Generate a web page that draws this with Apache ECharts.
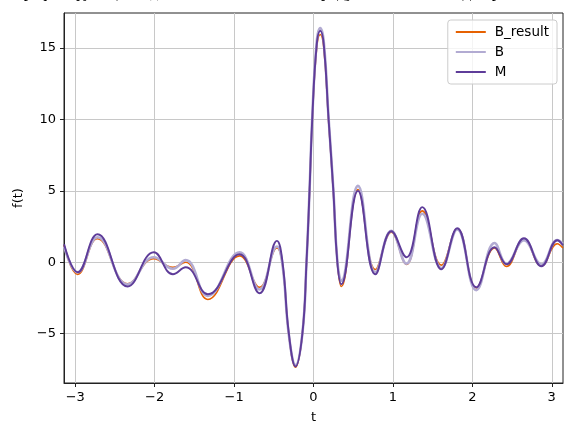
<!DOCTYPE html>
<html>
<head>
<meta charset="utf-8">
<script src="https://cdn.jsdelivr.net/npm/echarts@6/dist/echarts.min.js"></script>
<style>html,body{margin:0;padding:0;background:#fff}#c{width:565px;height:422px}</style>
</head>
<body>
<div id="c"></div>
<script>
const titleText = 'График функции f(t), восстановленной по ряду Котельникова для разных шагов дискретизации';
const seriesNames = ['B_result', 'B', 'M'];
const xTicks = [-3, -2, -1, 0, 1, 2, 3];
const yTicks = [-5, 0, 5, 10, 15];
const t = [-3.14, -2.97, -2.72, -2.34, -2.01, -1.77, -1.61, -1.33, -0.93, -0.68, -0.46, -0.39, -0.31, -0.226, -0.14, -0.088, -0.05, -0.016, 0.04, 0.085, 0.13, 0.19, 0.25, 0.30, 0.35, 0.56, 0.78, 0.98, 1.17, 1.37, 1.61, 1.81, 2.05, 2.28, 2.43, 2.65, 2.87, 3.07, 3.14];
const M = [1.26, -0.70, 1.96, -1.70, 0.70, -0.84, -0.35, -2.24, 0.56, -2.17, 1.50, 0.0, -5.0, -7.3, -5.0, 0.0, 5.0, 10.0, 15.2, 16.2, 15.2, 10.0, 5.0, 0.0, -1.54, 5.0, -0.84, 2.17, 0.35, 3.86, -0.49, 2.38, -1.75, 1.05, -0.14, 1.68, -0.28, 1.54, 1.19];
const B = [1.10, -0.70, 1.75, -1.55, 0.35, -0.45, 0.15, -2.35, 0.70, -1.90, 1.10, -0.2, -5.1, -7.2, -5.0, 0.0, 5.0, 10.1, 15.4, 16.4, 15.4, 10.1, 5.1, 0.1, -1.30, 5.35, -0.70, 2.20, -0.10, 3.40, -0.40, 2.30, -1.95, 1.35, -0.10, 1.55, -0.15, 1.55, 1.30];
const B_result = [1.20, -0.85, 1.65, -1.50, 0.25, -0.35, 0.0, -2.60, 0.45, -1.75, 1.00, -0.2, -5.1, -7.35, -5.0, 0.0, 4.9, 9.9, 15.0, 15.95, 15.0, 9.9, 4.9, 0.0, -1.70, 5.10, -0.50, 2.10, -0.15, 3.60, -0.20, 2.35, -1.80, 1.00, -0.30, 1.60, -0.25, 1.30, 1.00];

const seriesData = [B_result, B, M];
const colors = ['#e66101', '#b2abd2', '#5e3c99'];
const widths = [1.6, 2.6, 1.9];

const chart = echarts.init(document.getElementById('c'), null, {renderer: 'canvas'});
const font = 'DejaVu Sans';
chart.setOption({
  animation: false,
  backgroundColor: '#fff',
  title: {
    text: titleText,
    left: 10,
    top: -21,
    textStyle: {fontFamily: 'Liberation Serif', fontSize: 17, fontWeight: 'normal', color: '#000'}
  },
  grid: {left: 64, right: 2, top: 13, bottom: 39, show: true, borderColor: '#222', borderWidth: 1, containLabel: false, outerBoundsMode: 'none'},
  legend: {
    data: seriesNames,
    orient: 'vertical',
    right: 8,
    top: 20,
    padding: [5, 8, 5, 8],
    itemGap: 6,
    itemWidth: 30,
    itemHeight: 2,
    icon: 'rect',
    backgroundColor: 'rgba(255,255,255,0.8)',
    borderColor: '#cccccc',
    borderWidth: 1,
    borderRadius: 3,
    textStyle: {fontFamily: font, fontSize: 13.5, color: '#000', padding: [0, 0, 0, 4]}
  },
  xAxis: {
    type: 'value',
    min: -Math.PI,
    max: Math.PI,
    name: 't',
    nameLocation: 'middle',
    nameGap: 28,
    nameTextStyle: {fontFamily: font, fontSize: 13, color: '#000'},
    axisLine: {show: true, onZero: false, lineStyle: {color: '#222'}},
    axisTick: {show: true, length: 4, inside: false, customValues: xTicks, lineStyle: {color: '#222'}},
    axisLabel: {customValues: xTicks, fontFamily: font, fontSize: 13, color: '#000', margin: 8,
      formatter: v => (v < 0 ? '\u2212' + Math.abs(v) : String(v))},
    splitLine: {show: true, lineStyle: {color: '#c8c8c8', width: 1}}
  },
  yAxis: {
    type: 'value',
    min: -8.45,
    max: 17.45,
    name: 'f(t)',
    nameLocation: 'middle',
    nameGap: 39,
    nameTextStyle: {fontFamily: font, fontSize: 13, color: '#000'},
    axisLine: {show: true, onZero: false, lineStyle: {color: '#222'}},
    axisTick: {show: true, length: 4, inside: false, customValues: yTicks, lineStyle: {color: '#222'}},
    axisLabel: {customValues: yTicks, fontFamily: font, fontSize: 13, color: '#000', margin: 8,
      formatter: v => (v < 0 ? '\u2212' + Math.abs(v) : String(v))},
    splitLine: {show: true, lineStyle: {color: '#c8c8c8', width: 1}}
  },
  series: seriesNames.map((name, i) => ({
    name: name,
    type: 'line',
    data: t.map((x, j) => [x, seriesData[i][j]]),
    smooth: 0.45,
    showSymbol: false,
    symbol: 'none',
    color: colors[i],
    lineStyle: {color: colors[i], width: widths[i]},
    z: 2 + i
  }))
});
</script>
</body>
</html>
